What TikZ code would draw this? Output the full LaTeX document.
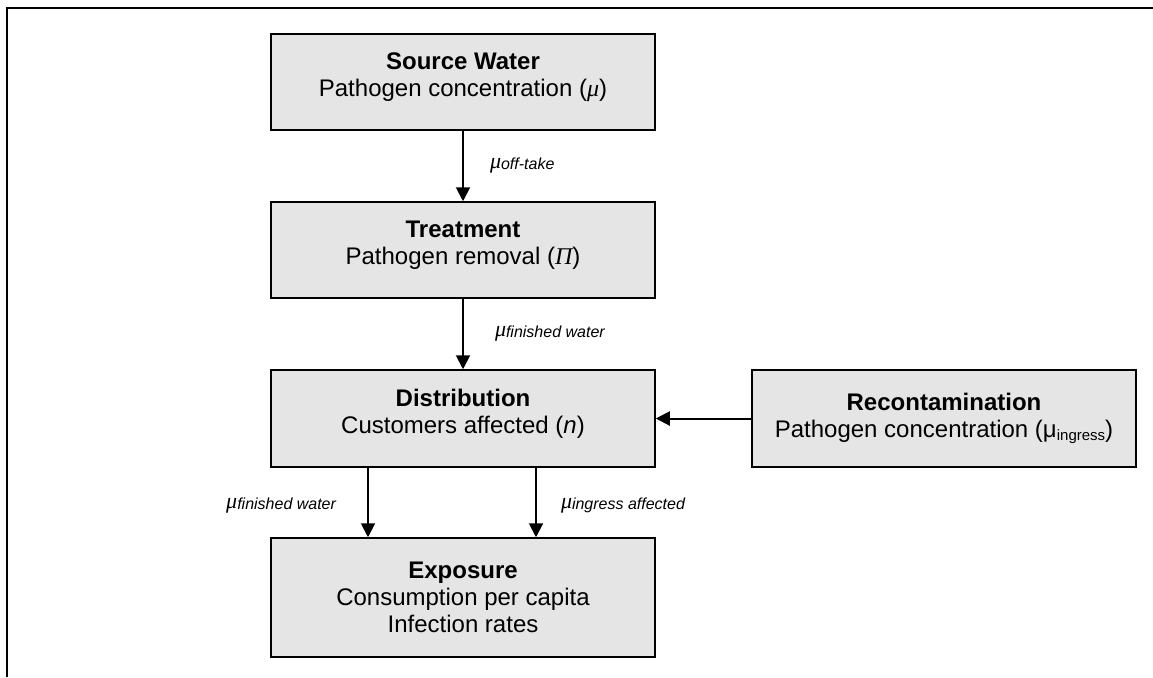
\documentclass[tikz,border=0pt]{standalone}
\usepackage{fontspec}
\setmainfont{Liberation Sans}
\newfontfamily\greekit{Liberation Serif}
\usetikzlibrary{arrows.meta, positioning}

% mu with a flow subscript
\newcommand{\flowlbl}[1]{{\fontsize{22}{22}\selectfont\greekit\itshape μ}{\fontsize{16}{16}\selectfont\itshape\raisebox{-1pt}{#1}}}
% deeper last line, lifts the text in its box
\newcommand{\liftstrut}{\rule[-14pt]{0pt}{1pt}}

\begin{document}
\begin{tikzpicture}[x=1pt, y=-1pt,
    stage/.style={draw=black, line width=1.5pt, fill=black!10, minimum width=384pt,
      minimum height=96pt, align=center, inner sep=0pt, font=\fontsize{24}{27}\selectfont},
    flow/.style={-{Triangle[width=14pt,length=14pt]}, line width=2pt},
    flowtxt/.style={inner sep=0pt}]

  \useasboundingbox (0,0) rectangle (1153,677);

  % Frame (left and top edges)
  \draw[line width=2pt] (6.5,677) -- (6.5,8.5) -- (1153,8.5);

  % Stages
  \node[stage] (src) at (463,82) {\textbf{Source Water}\\Pathogen concentration ({\greekit\itshape μ})\liftstrut};
  \node[stage] (treat) at (463,250) {\textbf{Treatment}\\Pathogen removal ({\greekit\itshape Π})\liftstrut};
  \node[stage, minimum height=97pt] (dist) at (463,418.5) {\textbf{Distribution}\\Customers affected (\textit{n})\liftstrut};
  \node[stage, minimum height=97pt] (recon) at (944,418.5)
    {\textbf{Recontamination}\\Pathogen concentration (μ{\fontsize{15}{15}\selectfont\raisebox{-3pt}{ingress}})};
  \node[stage, minimum height=119pt] (expo) at (463,597.5) {\textbf{Exposure}\\Consumption per capita\\Infection rates};

  % Flows
  \draw[flow] (src) -- (treat) node[midway, right=26pt, flowtxt] {\flowlbl{off-take}};
  \draw[flow] (treat) -- (dist) node[midway, right=31pt, flowtxt] {\flowlbl{finished water}};
  \draw[flow] (recon) -- (dist);
  \draw[flow] ([xshift=-95pt]dist.south) -- ([xshift=-95pt]expo.north)
    node[midway, left=31pt, yshift=-3pt, flowtxt] {\flowlbl{finished water}};
  \draw[flow] ([xshift=73pt]dist.south) -- ([xshift=73pt]expo.north)
    node[midway, right=24pt, yshift=-3pt, flowtxt] {\flowlbl{ingress affected}};

\end{tikzpicture}
\end{document}
